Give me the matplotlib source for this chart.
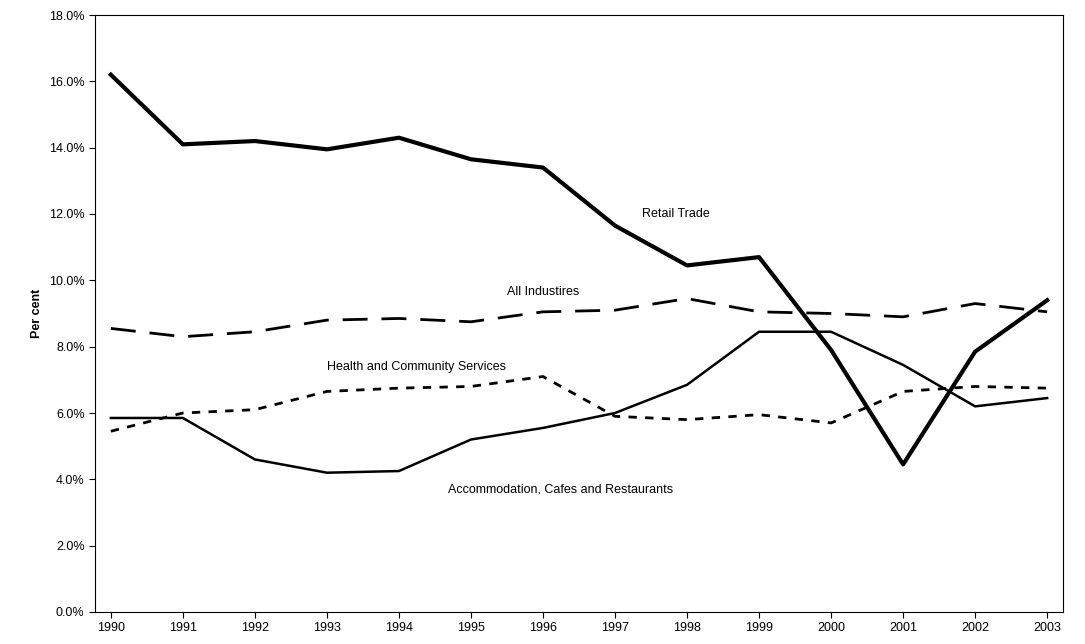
import matplotlib
matplotlib.use("Agg")
import matplotlib.pyplot as plt
from matplotlib.ticker import FuncFormatter

years = [str(y) for y in range(1990, 2004)]
retail = [16.2,14.1,14.2,13.95,14.3,13.65,13.4,11.65,10.45,10.7,7.9,4.45,7.85,9.4]
all_ind = [8.55,8.3,8.45,8.8,8.85,8.75,9.05,9.1,9.45,9.05,9.0,8.9,9.3,9.05]
health = [5.45,6.0,6.1,6.65,6.75,6.8,7.1,5.9,5.8,5.95,5.7,6.65,6.8,6.75]
accom = [5.85,5.85,4.6,4.2,4.25,5.2,5.55,6.0,6.85,8.45,8.45,7.45,6.2,6.45]

plt.rcParams['font.family'] = ['Liberation Sans', 'DejaVu Sans']
fig = plt.figure(figsize=(10.85, 6.44), dpi=100)
ax = fig.add_axes([95/1085, 1-612/644, (1063-95)/1085, (612-15)/644])
x = range(len(years))
ax.plot(x, retail, color='black', lw=3)
ax.plot(x, all_ind, color='black', lw=2, dashes=(9, 5))
ax.plot(x, health, color='black', lw=2, dashes=(3, 3))
ax.plot(x, accom, color='black', lw=1.8)
ax.set_xlim(-0.22, 13.22)
ax.set_ylim(0, 18)
ax.set_yticks(range(0, 19, 2))
ax.yaxis.set_major_formatter(FuncFormatter(lambda v, p: f"{v:.1f}%"))
ax.set_xticks(list(x))
ax.set_xticklabels(years)
ax.tick_params(labelsize=9, direction='out', length=4)
ax.set_ylabel('Per cent', fontsize=9, fontweight='bold')
for s in ['top', 'right']:
    ax.spines[s].set_linewidth(0.8)
ax.text(7.85, 12.0, 'Retail Trade', fontsize=9, ha='center', va='center')
ax.text(6.0, 9.65, 'All Industires', fontsize=9, ha='center', va='center')
ax.text(4.25, 7.4, 'Health and Community Services', fontsize=9, ha='center', va='center')
ax.text(6.25, 3.7, 'Accommodation, Cafes and Restaurants', fontsize=9, ha='center', va='center')
fig.savefig('out.png', dpi=100)
